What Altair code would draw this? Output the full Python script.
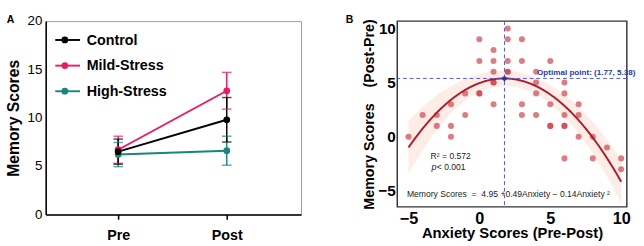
import altair as alt
import pandas as pd

FONT = "Liberation Sans"

# ---- Panel A: memory scores before/after by group ----
groups = ["Control", "Mild-Stress", "High-Stress"]
group_colors = ["#000000", "#EC1A63", "#17877C"]
phases = ["Pre", "Post"]
pre_mean = [6.5, 6.7, 6.2]
post_mean = [9.8, 12.8, 6.6]
pre_err = [1.3, 1.4, 1.25]
post_err = [2.3, 1.9, 1.5]

# ---- Panel B: change in memory vs. change in anxiety ----
anxiety = [-5,
           -4,
           -3, -3,
           -2, -2, -2,
           -1, -1,
           0, 0, 0, 0,
           1, 1, 1, 1, 1, 1,
           2, 2, 2, 2, 2,
           3, 3, 3, 3,
           4, 4, 4, 4,
           5, 5, 5, 5,
           6, 6, 6, 6, 6, 6,
           7, 7, 7,
           8, 8,
           9,
           10, 10]
memory = [0,
          2,
          2, 1,
          3, 1, 0,
          4, 2,
          9, 7, 4, 4,
          8, 7, 6, 5, 5, 3,
          10, 9, 7, 6, 6,
          9, 7, 3, 2,
          6, 5, 4, 2,
          7, 3, 1, 1,
          5, 4, 2, 1, 1, -2,
          3, 2, 0,
          0, -2,
          -1,
          -2, -3]

# quadratic fit reported on the chart
b0, b1, b2 = 4.95, 0.49, -0.14
opt_x, opt_y = 1.77, 5.38
r2_text = "R\u00b2 = 0.572"
p_text = "< 0.001"
formula_text = "Memory Scores\u00a0 =\u00a0 4.95 +0.49Anxiety \u2212 0.14Anxiety \u00b2"

# half-width of the confidence band along the anxiety axis
band_x = list(range(-5, 11))
band_half = [2.4, 2.0, 1.6, 1.25, 1.0, 0.85, 0.75, 0.7, 0.7, 0.75, 0.85, 1.0, 1.2, 1.45, 1.7, 2.0]

# ================= Panel A =================
rows = []
for g in ["High-Stress", "Mild-Stress", "Control"]:
    i = groups.index(g)
    rows.append({"group": g, "pos": 0, "mean": pre_mean[i],
                 "lo": pre_mean[i] - pre_err[i], "hi": pre_mean[i] + pre_err[i]})
    rows.append({"group": g, "pos": 1, "mean": post_mean[i],
                 "lo": post_mean[i] - post_err[i], "hi": post_mean[i] + post_err[i]})
dfa = pd.DataFrame(rows)

color_a = alt.Color("group:N", scale=alt.Scale(domain=groups, range=group_colors), legend=None)
xa = alt.X("pos:Q",
           scale=alt.Scale(domain=[-0.667, 1.684], nice=False, zero=False),
           axis=alt.Axis(values=[0, 1], labelExpr="datum.value == 0 ? 'Pre' : 'Post'",
                         title=None, grid=False, domainColor="black", domainWidth=1.6,
                         tickColor="black", tickWidth=1.6, tickSize=5, labelPadding=9,
                         labelFontSize=15, labelFontWeight="bold", labelColor="black"))
ya = alt.Y("mean:Q",
           scale=alt.Scale(domain=[0, 20], nice=False),
           axis=alt.Axis(values=[0, 5, 10, 15, 20], title="Memory Scores", grid=False,
                         domainColor="black", domainWidth=1.6, ticks=False, labelPadding=4,
                         labelFontSize=14, labelColor="black", titleFontSize=16.5,
                         titleFontWeight="bold", titleColor="black", titlePadding=6))

base_a = alt.Chart(dfa)
line_a = base_a.mark_line(strokeWidth=2).encode(x=xa, y=ya, color=color_a, detail="group:N")
err_a = base_a.mark_rule(strokeWidth=1.5).encode(x="pos:Q", y="lo:Q", y2="hi:Q", color=color_a)
cap_lo = base_a.mark_tick(orient="horizontal", size=10, thickness=1.5).encode(
    x="pos:Q", y="lo:Q", color=color_a)
cap_hi = base_a.mark_tick(orient="horizontal", size=10, thickness=1.5).encode(
    x="pos:Q", y="hi:Q", color=color_a)
pts_a = base_a.mark_circle(size=50, opacity=1).encode(x="pos:Q", y="mean:Q", color=color_a)

# in-plot key
key = pd.DataFrame({"group": groups, "row": [0, 1, 2]})
key_base = alt.Chart(key).transform_calculate(
    ky="18.05 - 2.65 * datum.row", kx0="-0.579", kx1="-0.351", kxp="-0.491", kxt="-0.29")
key_line = key_base.mark_rule(strokeWidth=2).encode(
    x="kx0:Q", x2="kx1:Q", y="ky:Q", color=color_a)
key_pt = key_base.mark_circle(size=50, opacity=1).encode(x="kxp:Q", y="ky:Q", color=color_a)
key_txt = key_base.mark_text(align="left", baseline="middle", fontSize=15, fontWeight="bold",
                             color="black").encode(x="kxt:Q", y="ky:Q", text="group:N")

label_a = alt.Chart(pd.DataFrame({"t": ["A"]})).mark_text(
    fontSize=11, fontWeight="bold", color="black", align="left", baseline="middle").encode(
    x=alt.value(-41), y=alt.value(-1), text="t:N")

panel_a = alt.layer(line_a, err_a, cap_lo, cap_hi, pts_a, key_line, key_pt, key_txt, label_a).properties(
    width=268, height=203, view=alt.ViewBackground(stroke="#999999", strokeWidth=1))

# ================= Panel B =================
dfb = pd.DataFrame({"anxiety": anxiety, "memory": memory})
x_scale_b = alt.Scale(domain=[-5.79, 10.4], nice=False, zero=False)
y_scale_b = alt.Scale(domain=[-6.48, 10.67], nice=False, zero=False)
x_axis_b = alt.Axis(values=[-5, 0, 5, 10], title="Anxiety Scores (Pre-Post)", grid=False,
                    domain=False, ticks=False, labelPadding=4, labelFontSize=17,
                    labelFontWeight="bold", labelColor="black", titleFontSize=15.5,
                    titleFontWeight="bold", titleColor="black", titlePadding=0,
                    labelFlush=False)
y_axis_b = alt.Axis(values=[-5, 0, 5, 10], title="Memory Scores\u00a0\u00a0\u00a0 (Post-Pre)",
                    grid=False, domain=False, ticks=False, labelPadding=2, labelFontSize=16,
                    labelFontWeight="bold", labelColor="black", titleFontSize=15,
                    titleFontWeight="bold", titleColor="black", titlePadding=2,
                    labelFlush=False)

fit_expr = f"{b0} + {b1} * datum.anxiety + {b2} * datum.anxiety * datum.anxiety"

band = alt.Chart(pd.DataFrame({"anxiety": band_x, "half": band_half})).transform_calculate(
    fit=fit_expr).transform_calculate(
    lo="datum.fit - datum.half", hi="datum.fit + datum.half").mark_area(
    interpolate="monotone", color="#F4A582", opacity=0.2).encode(
    x=alt.X("anxiety:Q", scale=x_scale_b, axis=x_axis_b),
    y=alt.Y("lo:Q", scale=y_scale_b, axis=y_axis_b), y2="hi:Q")

pts_b = alt.Chart(dfb).mark_circle(size=40, color="#CF3E48", opacity=0.68).encode(
    x="anxiety:Q", y="memory:Q")

curve = alt.Chart(alt.sequence(-5, 10.001, 0.05, as_="anxiety")).transform_calculate(
    memory=fit_expr).mark_line(color="#B2182B", strokeWidth=2).encode(
    x="anxiety:Q", y="memory:Q")

opt = pd.DataFrame({"anxiety": [opt_x], "memory": [opt_y]})
hline = alt.Chart(opt).mark_rule(color="#4A55D4", strokeWidth=1, strokeDash=[4, 3]).encode(y="memory:Q")
vline = alt.Chart(opt).mark_rule(color="#4A55D4", strokeWidth=1, strokeDash=[4, 3]).encode(x="anxiety:Q")
opt_pt = alt.Chart(opt).mark_point(shape="diamond", filled=True, size=40, color="#1F3A9A", opacity=1).encode(
    x="anxiety:Q", y="memory:Q")

notes = pd.DataFrame({
    "anxiety": [4.07, -3.44, -3.0, -5.11],
    "memory": [5.95, -1.8, -2.85, -5.28],
    "text": [f"Optimal point: ({opt_x}, {opt_y})", r2_text, p_text, formula_text],
    "kind": ["opt", "stat", "stat", "stat"],
})
opt_txt = alt.Chart(notes).transform_filter("datum.kind == 'opt'").mark_text(
    align="left", baseline="middle", fontSize=8.5, fontWeight="bold", color="#2A3AAE").encode(
    x="anxiety:Q", y="memory:Q", text="text:N")
stat_txt = alt.Chart(notes).transform_filter("datum.kind == 'stat'").mark_text(
    align="left", baseline="middle", fontSize=9, color="#222222").encode(
    x="anxiety:Q", y="memory:Q", text="text:N")
p_italic = alt.Chart(pd.DataFrame({"anxiety": [-3.37], "memory": [-2.85], "t": ["p"]})).mark_text(
    align="left", baseline="middle", fontSize=9.5, fontStyle="italic", color="#222222").encode(
    x="anxiety:Q", y="memory:Q", text="t:N")

label_b = alt.Chart(pd.DataFrame({"t": ["B"]})).mark_text(
    fontSize=11, fontWeight="bold", color="black", align="left", baseline="middle").encode(
    x=alt.value(-54), y=alt.value(-1), text="t:N")

panel_b = alt.layer(band, pts_b, curve, hline, vline, opt_pt, opt_txt, stat_txt, p_italic, label_b).properties(
    width=241, height=195, view=alt.ViewBackground(stroke="#333333", strokeWidth=1.5))

chart = alt.hconcat(panel_a, panel_b, spacing=45).properties(
    padding={"left": 5, "top": 8, "right": 8, "bottom": 0}
).configure(font=FONT).configure_view(stroke="#333333")

chart.save("out.html", embed_options={"renderer": "svg", "actions": False})
